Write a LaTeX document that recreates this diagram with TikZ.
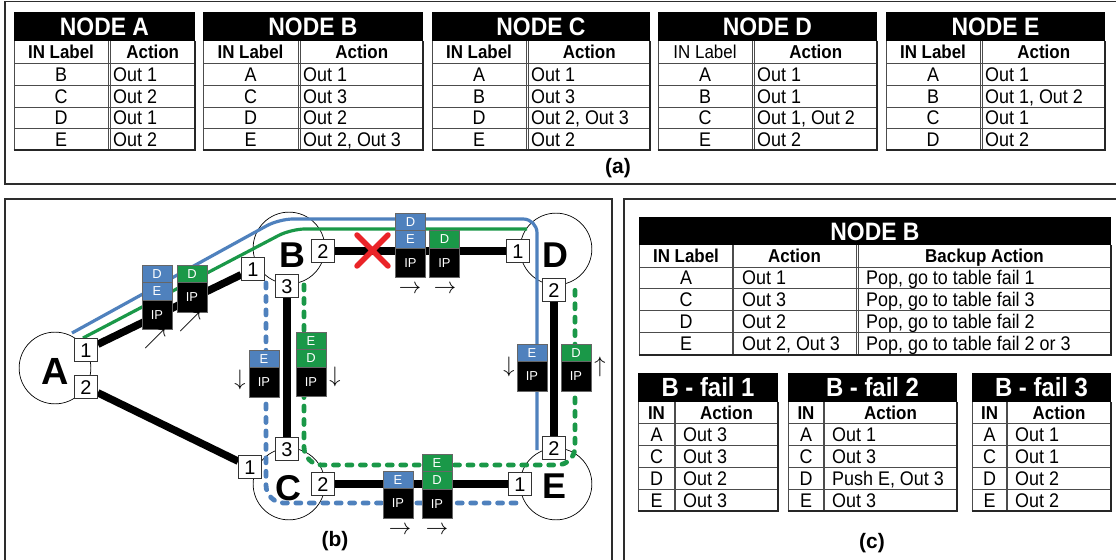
\documentclass[tikz,border=0pt]{standalone}
\usepackage{fontspec}
\setmainfont{Liberation Sans}
\pgfdeclarelayer{back}
\pgfdeclarelayer{mid}
\pgfsetlayers{back,mid,main}
\definecolor{pblue}{RGB}{79,129,189}
\definecolor{pgreen}{RGB}{26,152,72}
\definecolor{xred}{RGB}{234,36,40}
\definecolor{frm}{RGB}{45,45,45}
\newcommand\vs[1]{\scalebox{1}[1.1]{#1}}
\tikzset{
 tit/.style={text=white,inner sep=0,font=\fontsize{23}{23}\selectfont\bfseries,text height=18.1,text depth=0},
 chd/.style={inner sep=0,font=\fontsize{17}{17}\selectfont\bfseries,text height=13.4,text depth=0},
 chn/.style={inner sep=0,font=\fontsize{17}{17}\selectfont,text height=13.4,text depth=0},
 cel/.style={inner sep=0,font=\fontsize{18}{18}\selectfont,text height=14.2,text depth=0},
 gl/.style={draw=black!70,line width=0.8},
 gb/.style={draw=black!85,line width=2},
 panel/.style={draw=frm,line width=1.3},
 port/.style={draw=black!80,fill=white,line width=0.8,minimum size=23,inner sep=0,font=\fontsize{20}{20}\selectfont,text height=14.3,text depth=0},
 nd/.style={circle,draw=black,line width=0.7,fill=white,minimum size=72,inner sep=0},
 nlet/.style={inner sep=0,font=\fontsize{36}{36}\selectfont\bfseries,text height=25.8,text depth=0},
 link/.style={line width=7.5,black},
 bsolid/.style={pblue,line width=3.2,rounded corners=14},
 gsolid/.style={pgreen,line width=3.2,rounded corners=14},
 bdash/.style={pblue,line width=4.8,line cap=round,dash pattern=on 5 off 8.5,rounded corners=18},
 gdash/.style={pgreen,line width=4.8,line cap=round,dash pattern=on 5 off 8.5,rounded corners=18},
 lab/.style={draw=black!60,line width=0.5,minimum width=30,minimum height=17.5,inner sep=0,text=white,font=\fontsize{13}{13}\selectfont,text height=9.3,text depth=0},
 lb/.style={lab,fill=pblue},
 lg/.style={lab,fill=pgreen},
 ipb/.style={lab,fill=black,minimum height=29.5},
 arr/.style={inner sep=0,font=\fontsize{19}{19}\selectfont},
 figlab/.style={inner sep=0,font=\fontsize{21}{21}\selectfont\bfseries}
}
\newcommand\ar[1]{\scalebox{1.3}{$#1$}}
\newcommand\tabA[6]{%
 \fill[black] (#2,12) rectangle (#4,41);
 \node[tit] (#1t) at ({(#2+#4)/2},26.5) {\vs{#5}};
 \foreach \yy in {63,85,107,128} {\draw[gl] (#2,\yy) -- (#4,\yy);}
 \draw[gl] (#2,41) -- (#2,150);
 \draw[gl] (#3,41) -- (#3,150);
 \draw[gl] (#3+2.5,41) -- (#3+2.5,150);
 \draw[gb] (#4,41) -- (#4,151);
 \draw[gb] (#2-0.4,150) -- (#4+1,150);
 \node[#6] (#1h1) at ({(#2+#3)/2},52) {\vs{IN Label}};
 \node[chd] (#1h2) at ({(#3+2.5+#4)/2},52) {\vs{Action}};
}
\newcommand\rowA[6]{\node[cel] (#1i) at ({(#2+#3)/2},#4) {\vs{#5}}; \node[cel,anchor=west] (#1a) at (#3+5,#4) {\vs{#6}};}
\newcommand\tabF[5]{%
 \fill[black] (#2,373) rectangle (#4,402);
 \node[tit,font=\fontsize{24}{24}\selectfont\bfseries,text height=18.2] (#1t) at ({(#2+#4)/2},387.5) {\vs{#5}};
 \foreach \yy in {423,445,467,489} {\draw[gl] (#2,\yy) -- (#4,\yy);}
 \draw[gl] (#2,402) -- (#2,511);
 \draw[gl,line width=1.2] (#3,402) -- (#3,511);
 \draw[gb] (#4,402) -- (#4,512);
 \draw[gb] (#2-0.4,511) -- (#4+1,511);
 \node[chd] (#1h1) at ({(#2+#3)/2},412.5) {\vs{IN}};
 \node[chd] (#1h2) at ({(#3+#4)/2},412.5) {\vs{Action}};
}
\newcommand\rowF[6]{\node[cel] (#1i) at ({(#2+#3)/2},#4) {\vs{#5}}; \node[cel,anchor=west] (#1a) at (#3+8,#4) {\vs{#6}};}
\newcommand\rowC[5]{\node[cel] (#1i) at (686,#2) {\vs{#3}}; \node[cel,anchor=west] (#1a) at (742,#2) {\vs{#4}}; \node[cel,anchor=west] (#1b) at (866,#2) {\vs{#5}};}
\begin{document}
\begin{tikzpicture}[x=1bp,y=-1bp]
\useasboundingbox (0,0) rectangle (1116,560);
\begin{pgfonlayer}{back}
\fill[white] (0,0) rectangle (1116,560);
\end{pgfonlayer}
% panels
\draw[panel] (5,1.5) rectangle (1125,184);
\draw[panel] (5,199) rectangle (612,570);
\draw[panel] (624,199) rectangle (1125,570);
% ---------- (a) tables ----------
\tabA{ta}{14}{108}{195}{NODE A}{chd}
\rowA{ta1}{14}{108}{74}{B}{Out 1}
\rowA{ta2}{14}{108}{96}{C}{Out 2}
\rowA{ta3}{14}{108}{117.5}{D}{Out 1}
\rowA{ta4}{14}{108}{139}{E}{Out 2}
\tabA{tb}{203}{298}{423}{NODE B}{chd}
\rowA{tb1}{203}{298}{74}{A}{Out 1}
\rowA{tb2}{203}{298}{96}{C}{Out 3}
\rowA{tb3}{203}{298}{117.5}{D}{Out 2}
\rowA{tb4}{203}{298}{139}{E}{Out 2, Out 3}
\tabA{tc}{432}{526}{650}{NODE C}{chd}
\rowA{tc1}{432}{526}{74}{A}{Out 1}
\rowA{tc2}{432}{526}{96}{B}{Out 3}
\rowA{tc3}{432}{526}{117.5}{D}{Out 2, Out 3}
\rowA{tc4}{432}{526}{139}{E}{Out 2}
\tabA{td}{658}{752}{877}{NODE D}{chn}
\rowA{td1}{658}{752}{74}{A}{Out 1}
\rowA{td2}{658}{752}{96}{B}{Out 1}
\rowA{td3}{658}{752}{117.5}{C}{Out 1, Out 2}
\rowA{td4}{658}{752}{139}{E}{Out 2}
\tabA{te}{886}{980}{1105}{NODE E}{chd}
\rowA{te1}{886}{980}{74}{A}{Out 1}
\rowA{te2}{886}{980}{96}{B}{Out 1, Out 2}
\rowA{te3}{886}{980}{117.5}{C}{Out 1}
\rowA{te4}{886}{980}{139}{D}{Out 2}
\node[figlab] (la) at (618,168) {(a)};
% ---------- (c) tables ----------
\fill[black] (639,217) rectangle (1111,245);
\node[tit] (cbt) at (875,231) {\vs{NODE B}};
\foreach \yy in {267,288,310,332} {\draw[gl] (639,\yy) -- (1111,\yy);}
\draw[gl] (639,245) -- (639,355);
\draw[gl,line width=1.4] (733,245) -- (733,355);
\draw[gl] (856,245) -- (856,355);
\draw[gl] (858.5,245) -- (858.5,355);
\draw[gb] (1111,245) -- (1111,356);
\draw[gb] (638.6,355) -- (1112,355);
\node[chd] (cbh1) at (686,256) {\vs{IN Label}};
\node[chd] (cbh2) at (794.5,256) {\vs{Action}};
\node[chd] (cbh3) at (984.5,256) {\vs{Backup Action}};
\rowC{cb1}{277.5}{A}{Out 1}{Pop, go to table fail 1}
\rowC{cb2}{299}{C}{Out 3}{Pop, go to table fail 3}
\rowC{cb3}{321}{D}{Out 2}{Pop, go to table fail 2}
\rowC{cb4}{343.5}{E}{Out 2, Out 3}{Pop, go to table fail 2 or 3}
\tabF{f1}{638}{675}{778}{B - fail 1}
\rowF{f1a}{638}{675}{434}{A}{Out 3}
\rowF{f1b}{638}{675}{456}{C}{Out 3}
\rowF{f1c}{638}{675}{478}{D}{Out 2}
\rowF{f1d}{638}{675}{500}{E}{Out 3}
\tabF{f2}{788}{824}{957}{B - fail 2}
\rowF{f2a}{788}{824}{434}{A}{Out 1}
\rowF{f2b}{788}{824}{456}{C}{Out 3}
\rowF{f2c}{788}{824}{478}{D}{Push E, Out 3}
\rowF{f2d}{788}{824}{500}{E}{Out 3}
\tabF{f3}{972}{1007}{1111}{B - fail 3}
\rowF{f3a}{972}{1007}{434}{A}{Out 1}
\rowF{f3b}{972}{1007}{456}{C}{Out 1}
\rowF{f3c}{972}{1007}{478}{D}{Out 2}
\rowF{f3d}{972}{1007}{500}{E}{Out 2}
\node[figlab] (lc) at (872,543) {(c)};
% ---------- (b) network ----------
\begin{pgfonlayer}{back}
\node[nd] (nA) at (55,368) {};
\node[nd] (nB) at (289,248) {};
\node[nd] (nC) at (289,484) {};
\node[nd] (nD) at (556,249) {};
\node[nd] (nE) at (556,484) {};
\end{pgfonlayer}
\node[nlet,font=\fontsize{38}{38}\selectfont\bfseries,text height=27.2] (lA) at (55,371) {A};
\node[nlet] (lB) at (292,255) {B};
\node[nlet] (lC) at (288,488) {C};
\node[nlet] (lD) at (555,255) {D};
\node[nlet] (lE) at (554,486) {E};
\node[port] (A1) at (86,350) {1};
\node[port] (A2) at (86,387) {2};
\node[port] (B1) at (253,269) {1};
\node[port] (B3) at (287,286) {3};
\node[port] (B2) at (323,251) {2};
\node[port] (C1) at (250,467) {1};
\node[port] (C3) at (287,449) {3};
\node[port] (C2) at (323,484) {2};
\node[port] (D1) at (518,251) {1};
\node[port] (D2) at (554,290) {2};
\node[port] (E2) at (554,448) {2};
\node[port] (E1) at (520,484) {1};
% route points
\coordinate (bs0) at (72,333);
\coordinate (bs1) at (279,219);
\coordinate (bs2) at (537,219);
\coordinate (bs3) at (537,450);
\coordinate (gs0) at (83,338);
\coordinate (gs1) at (291,229);
\coordinate (gs2) at (527,229);
\coordinate (bd0) at (266,283);
\coordinate (bd1) at (266,503);
\coordinate (bd2) at (516,503);
\coordinate (gd0) at (304,285);
\coordinate (gd1) at (304,465);
\coordinate (gd2) at (575,465);
\coordinate (gd3) at (575,290);
\begin{pgfonlayer}{mid}
\draw[bsolid] (bs0) -- (bs1) -- (bs2) -- (bs3);
\draw[gsolid] (gs0) -- (gs1) -- (gs2);
\draw[bdash] (bd0) -- (bd1) -- (bd2);
\draw[gdash] (gd0) -- (gd1) -- (gd2) -- (gd3);
\draw[link] (A1) -- (B1);
\draw[link] (A2) -- (C1);
\draw[link] (B3) -- (C3);
\draw[link] (B2) -- (D1);
\draw[link] (C2) -- (E1);
\draw[link] (D2) -- (E2);
\end{pgfonlayer}
% failure mark
\draw[xred,line width=5.5,line cap=round] (357,235) -- (388,266) (357,266) -- (388,235);
% packets
\node[lb] (p1d) at (157,273.75) {D};
\node[lb] (p1e) at (157,291.25) {E};
\node[ipb] (p1ip) at (157,314.75) {IP};
\node[lg] (p2d) at (192,273.75) {D};
\node[ipb] (p2ip) at (192,297.25) {IP};
\node[lb] (p3e) at (264,358.75) {E};
\node[ipb] (p3ip) at (264,382.25) {IP};
\node[lg] (p4e) at (311,340.75) {E};
\node[lg] (p4d) at (311,358.25) {D};
\node[ipb] (p4ip) at (311,381.75) {IP};
\node[lb] (p5d) at (410.5,221.75) {D};
\node[lb] (p5e) at (410.5,239.25) {E};
\node[ipb] (p5ip) at (410.5,262.75) {IP};
\node[lg] (p6d) at (444.5,239.25) {D};
\node[ipb] (p6ip) at (444.5,262.75) {IP};
\node[lb] (p7e) at (532,352.75) {E};
\node[ipb] (p7ip) at (532,376.25) {IP};
\node[lg] (p8d) at (576,352.75) {D};
\node[ipb] (p8ip) at (576,376.25) {IP};
\node[lb] (p9e) at (398,479.75) {E};
\node[ipb] (p9ip) at (398,503.25) {IP};
\node[lg] (p10e) at (437,462.75) {E};
\node[lg] (p10d) at (437,480.25) {D};
\node[ipb] (p10ip) at (437,503.75) {IP};
% direction arrows
\node[arr] (a1) at (155,339) {\ar{\nearrow}};
\node[arr] (a2) at (190,322) {\ar{\nearrow}};
\node[arr] (a3) at (240,380) {\ar{\downarrow}};
\node[arr] (a4) at (335,377) {\ar{\downarrow}};
\node[arr] (a5) at (410,289) {\ar{\rightarrow}};
\node[arr] (a6) at (445,289) {\ar{\rightarrow}};
\node[arr] (a7) at (509,367) {\ar{\downarrow}};
\node[arr] (a8) at (600,367) {\ar{\uparrow}};
\node[arr] (a9) at (400,530) {\ar{\rightarrow}};
\node[arr] (a10) at (437,530) {\ar{\rightarrow}};
\node[figlab] (lbb) at (335,541) {(b)};
\end{tikzpicture}
\end{document}
